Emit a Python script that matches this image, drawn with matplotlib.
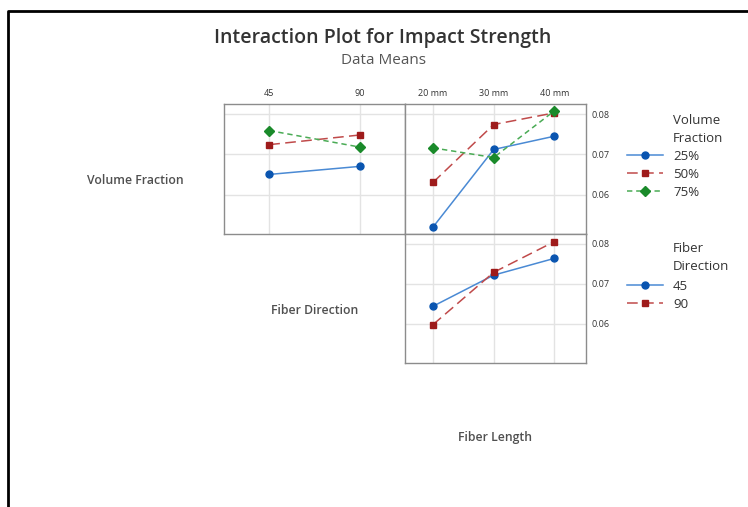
import matplotlib

matplotlib.use("Agg")

import matplotlib.pyplot as plt  # noqa: E402

plt.rcParams["font.family"] = ["Open Sans", "DejaVu Sans"]

# factor levels
direction_levels = ["45", "90"]
length_levels = ["20 mm", "30 mm", "40 mm"]
fraction_levels = ["25%", "50%", "75%"]

# means: Volume Fraction x Fiber Direction
vf_by_direction = {
    "25%": [0.0650, 0.0670],
    "50%": [0.0724, 0.0748],
    "75%": [0.0759, 0.0718],
}
# means: Volume Fraction x Fiber Length
vf_by_length = {
    "25%": [0.0519, 0.0712, 0.0745],
    "50%": [0.0630, 0.0774, 0.0803],
    "75%": [0.0716, 0.0692, 0.0808],
}
# means: Fiber Direction x Fiber Length
dir_by_length = {
    "45": [0.0644, 0.0722, 0.0764],
    "90": [0.0598, 0.0729, 0.0806],
}

y_ticks = [0.06, 0.07, 0.08]
y_lim = (0.0502, 0.0825)

# marker colour, line colour, marker, dash pattern
styles = [
    ("#0a55b0", "#4a8ad4", "o", None),
    ("#9e1b1b", "#c04a4a", "s", (7, 3.5)),
    ("#1a8a2a", "#4aab55", "D", (3.5, 2.5)),
]

SPINE = "#8c8c8c"
GRID = "#e3e3e3"
TEXT = "#505050"

W, H = 748, 507
fig = plt.figure(figsize=(W / 100, H / 100), dpi=100)


def box(x0, y0, x1, y1):
    """Pixel box (top-left origin) -> figure rect."""
    return [x0 / W, 1 - y1 / H, (x1 - x0) / W, (y1 - y0) / H]


def style_axes(ax, n, xlim):
    ax.set_xlim(*xlim)
    ax.set_ylim(*y_lim)
    ax.set_xticks(range(n))
    ax.set_yticks(y_ticks)
    ax.grid(True, color=GRID, linewidth=1)
    ax.set_axisbelow(True)
    for s in ax.spines.values():
        s.set_color(SPINE)
        s.set_linewidth(1)
    ax.tick_params(length=0, labelsize=6.5, colors="#333333", pad=4,
                   left=False, labelleft=False, bottom=False, labelbottom=False)


def draw(ax, series):
    handles = []
    for (name, vals), (mc, lc, mk, dash) in zip(series.items(), styles):
        line, = ax.plot(range(len(vals)), vals, color=lc, linewidth=1.1,
                        marker=mk, markersize=5 if mk != "D" else 4.6,
                        markerfacecolor=mc, markeredgecolor=mc, label=name)
        if dash is not None:
            line.set_dashes(dash)
        handles.append(line)
    return handles


ax1 = fig.add_axes(box(224, 104, 405, 234))
ax2 = fig.add_axes(box(405, 104, 586, 234))
ax3 = fig.add_axes(box(405, 234, 586, 363))

style_axes(ax1, 2, (-0.5, 1.5))
style_axes(ax2, 3, (-0.46, 2.52))
style_axes(ax3, 3, (-0.46, 2.52))

draw(ax1, vf_by_direction)
h_vf = draw(ax2, vf_by_length)
h_dir = draw(ax3, dir_by_length)

ax1.tick_params(top=False, labeltop=True)
ax1.set_xticklabels(direction_levels)
ax2.tick_params(top=False, labeltop=True, right=False, labelright=True)
ax2.set_xticklabels(length_levels)
ax3.tick_params(right=False, labelright=True)
for ax in (ax2, ax3):
    ax.set_yticklabels([f"{t:.2f}" for t in y_ticks])

# legends: entries via fig.legend, titles as text aligned with the labels
leg_kw = dict(frameon=False, fontsize=9.5, handlelength=2.7,
              handletextpad=0.8, labelspacing=0.37, borderpad=0, borderaxespad=0,
              loc="upper left", labelcolor="#333333")
fig.legend(handles=h_vf, bbox_to_anchor=(627 / W, 1 - 150 / H), **leg_kw)
fig.legend(handles=h_dir, bbox_to_anchor=(627 / W, 1 - 280 / H), **leg_kw)

ttl_kw = dict(ha="left", va="center", fontsize=9.5, color="#333333")
fig.text(673 / W, 1 - 120 / H, "Volume", **ttl_kw)
fig.text(673 / W, 1 - 138 / H, "Fraction", **ttl_kw)
fig.text(673 / W, 1 - 248 / H, "Fiber", **ttl_kw)
fig.text(673 / W, 1 - 267 / H, "Direction", **ttl_kw)

# diagonal factor labels
lab_kw = dict(ha="center", va="center", fontsize=8.8, color=TEXT, fontweight="semibold")
fig.text(135 / W, 1 - 181 / H, "Volume Fraction", **lab_kw)
fig.text(315 / W, 1 - 310 / H, "Fiber Direction", **lab_kw)
fig.text(495 / W, 1 - 438 / H, "Fiber Length", **lab_kw)

fig.text(383 / W, 1 - 38 / H, "Interaction Plot for Impact Strength", ha="center",
         va="center", fontsize=14, color="#333333", fontweight="semibold")
fig.text(383 / W, 1 - 61 / H, "Data Means", ha="center", va="center",
         fontsize=11, color="#555555")

# outer frame (top and left edges only, as in the screenshot)
fig.add_artist(plt.Line2D([8 / W, 8 / W, 1], [0, 1 - 11 / H, 1 - 11 / H],
                          transform=fig.transFigure, color="black", linewidth=2))

fig.savefig("out.png", dpi=100)
